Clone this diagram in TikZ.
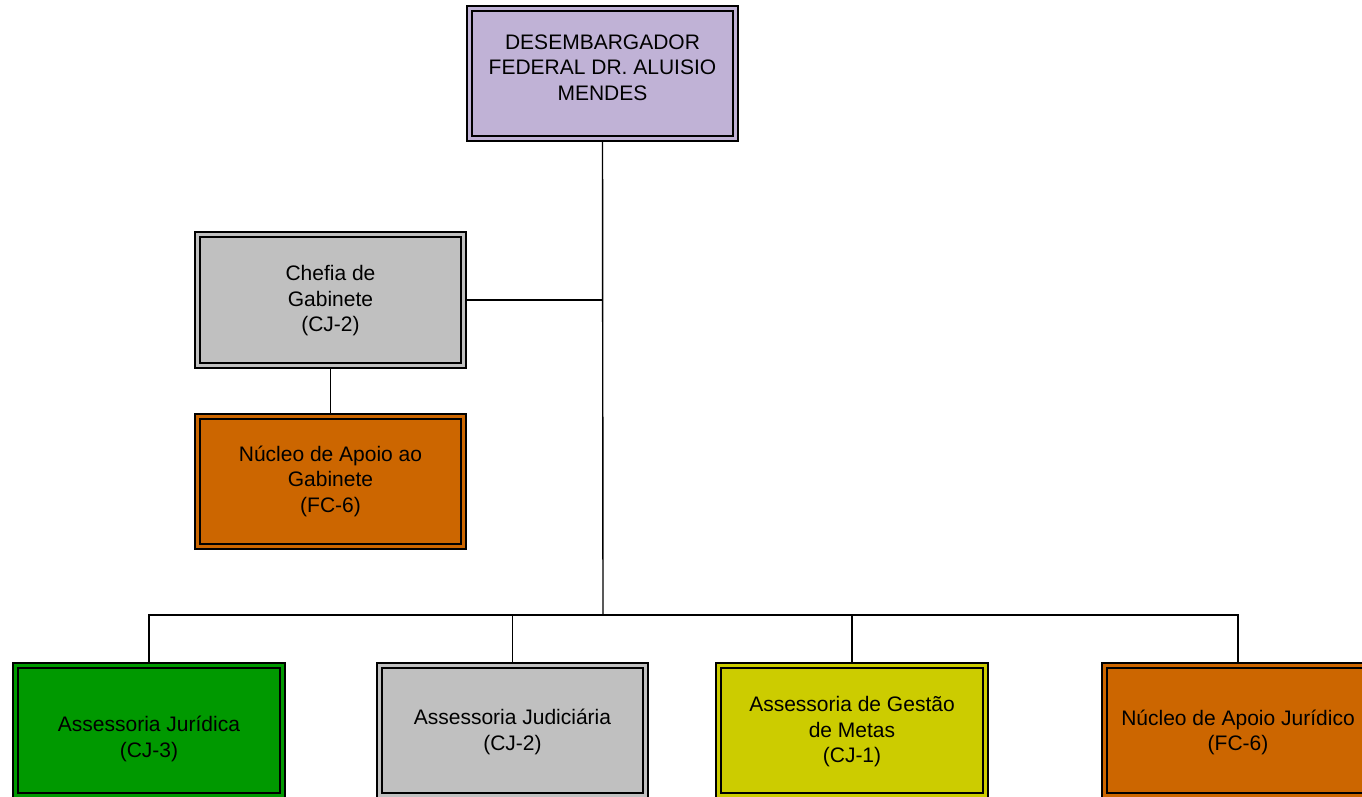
\documentclass[tikz,border=0pt]{standalone}
\usepackage{fontspec}
\setmainfont{Liberation Sans}
\usetikzlibrary{backgrounds}
\definecolor{cpurple}{HTML}{C0B2D6}
\definecolor{cgray}{HTML}{C0C0C0}
\definecolor{corange}{HTML}{CC6600}
\definecolor{cgreen}{HTML}{009900}
\definecolor{cyellow}{HTML}{CCCC00}
\tikzset{
  orgbox/.style={draw=black, fill=#1, double=#1, double distance=3.2pt, line width=1.8pt,
    minimum width=266.5pt, minimum height=130.5pt, inner sep=0pt,
    font=\fontsize{21}{25.6}\selectfont},
  link/.style={draw=black, line width=1.4pt}
}
\newcommand\boxtext[2]{\raisebox{#1}[\height][\depth]{\begin{tabular}{@{}c@{}}#2\end{tabular}}}
\begin{document}
\begin{tikzpicture}[x=1pt,y=-1pt]
\useasboundingbox (0,0) rectangle (1362,796);
\node[orgbox=cpurple] (des) at (602.5,73.5) {\boxtext{4pt}{DESEMBARGADOR\\FEDERAL DR. ALUISIO\\MENDES}};
\node[orgbox=cgray] (chefia) at (330.5,300) {\boxtext{-1pt}{Chefia de\\Gabinete\\(CJ-2)}};
\node[orgbox=corange] (nucgab) at (330.5,481.5) {\boxtext{0pt}{Núcleo de Apoio ao\\Gabinete\\(FC-6)}};
\node[orgbox=cgreen] (b1) at (149,730.5) {\boxtext{-9pt}{Assessoria Jurídica\\(CJ-3)}};
\node[orgbox=cgray] (b2) at (512.5,730.5) {\boxtext{-2pt}{Assessoria Judiciária\\(CJ-2)}};
\node[orgbox=cyellow] (b3) at (852,730.5) {\boxtext{-1.5pt}{Assessoria de Gestão\\de Metas\\(CJ-1)}};
\node[orgbox=corange] (b4) at (1238,730.5) {\boxtext{-2.5pt}{Núcleo de Apoio Jurídico\\(FC-6)}};
\coordinate (hub) at (603,615);
\coordinate (cj) at (603,300);
\begin{scope}[on background layer]
\draw[link] (des.south) -- (hub);
\draw[link] (chefia.east) -- (cj);
\draw[link] (chefia.south) -- (nucgab.north);
\draw[link] (b1.north) |- (hub) -| (b4.north);
\draw[link] (b2.north) -- (b2.north |- hub);
\draw[link] (b3.north) -- (b3.north |- hub);
\end{scope}
\end{tikzpicture}
\end{document}
